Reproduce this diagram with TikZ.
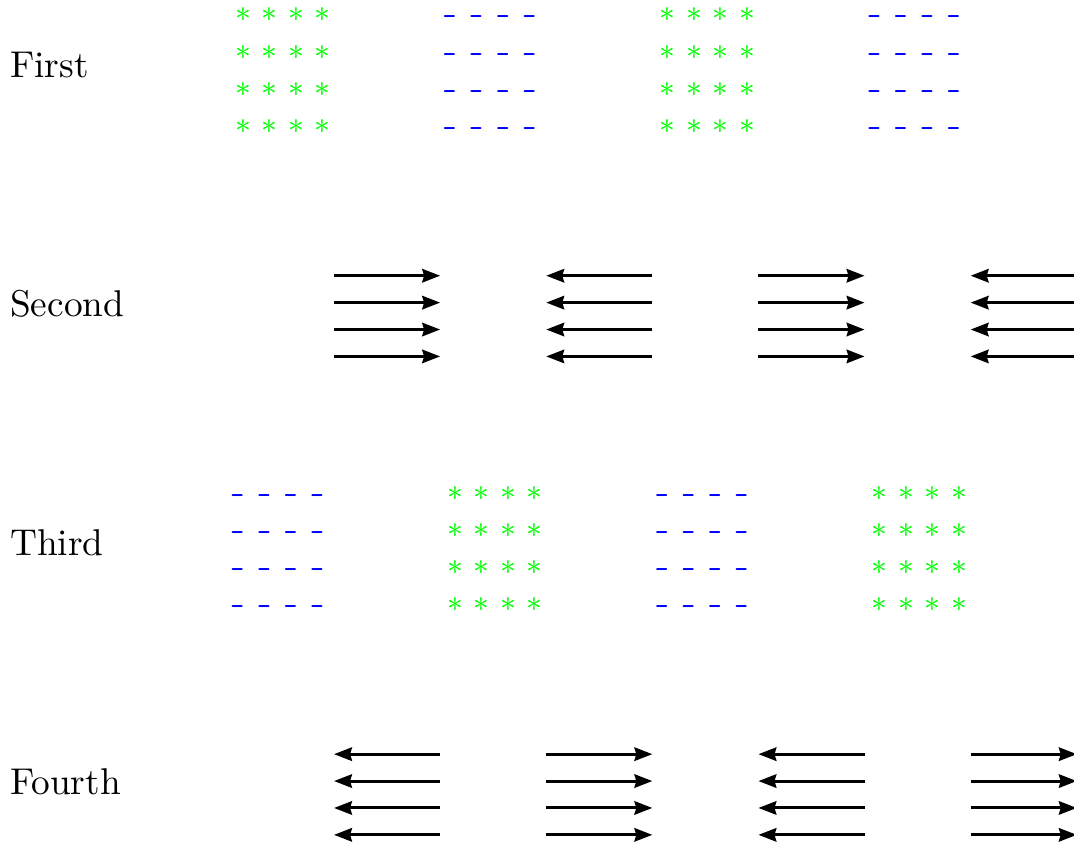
\documentclass[tikz,border=0pt]{standalone}
\usepackage{tikz}
\usetikzlibrary{arrows.meta}

\begin{document}
\begin{tikzpicture}[
  lbl/.style={anchor=base west, inner sep=0pt},
  asterisk/.style={inner sep=0pt, text=green, font=\footnotesize},
  hyphen/.style={anchor=base, inner sep=0pt, text=blue, font=\ttfamily\scriptsize},
  arrow/.style={-{Stealth[length=4.8pt, width=3.6pt, inset=0.5pt]}, thick}
]
\useasboundingbox (0,0) rectangle (10.122,-7.936);

% Row labels
\foreach \name [count=\r from 0] in {First,Second,Third,Fourth}
  \node[lbl] (lbl-\r) at (0.0895, {-0.7286-2.2545*\r}) {\name};

% Character grids (rows First and Third)
\foreach \r/\ka/\kb in {0/0/1, 2/1/0}
  \foreach \k in {0,2}
    \foreach \i in {0,...,3}
      \foreach \j in {0,...,3} {
        \node[asterisk] (s-\r-\k-\i-\j) at ({2.290+2*(\k+\ka)+0.25*\j}, {-0.1414-2.2545*\r-0.35*\i}) {$\ast$};
        \node[hyphen] (h-\r-\k-\i-\j) at ({2.2375+2*(\k+\kb)+0.25*\j}, {-0.2347-2.2545*\r-0.35*\i}) {-};
      }

% Arrow groups (rows Second and Fourth)
\foreach \r/\ka/\kb in {1/0/1, 3/1/0}
  \foreach \k in {0,2}
    \foreach \i in {0,...,3} {
      \coordinate (r-\r-\k-\i-w) at ({3.148+2*(\k+\ka)}, {-2.5985-2.2545*(\r-1)-0.2535*\i});
      \coordinate (r-\r-\k-\i-e) at ({4.148+2*(\k+\ka)}, {-2.5985-2.2545*(\r-1)-0.2535*\i});
      \draw[arrow] (r-\r-\k-\i-w) -- (r-\r-\k-\i-e);
      \coordinate (l-\r-\k-\i-w) at ({3.148+2*(\k+\kb)}, {-2.5985-2.2545*(\r-1)-0.2535*\i});
      \coordinate (l-\r-\k-\i-e) at ({4.148+2*(\k+\kb)}, {-2.5985-2.2545*(\r-1)-0.2535*\i});
      \draw[arrow] (l-\r-\k-\i-e) -- (l-\r-\k-\i-w);
    }

\end{tikzpicture}
\end{document}
